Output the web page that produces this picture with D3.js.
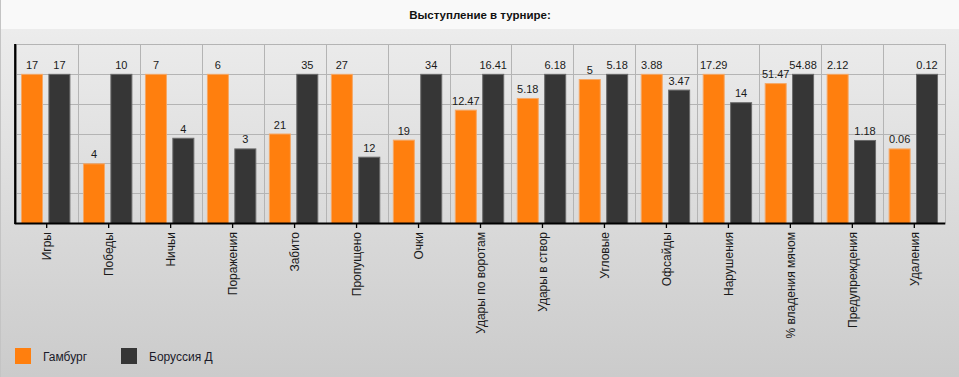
<!DOCTYPE html>
<html><head><meta charset="utf-8">
<script src="https://cdn.jsdelivr.net/npm/d3@7"></script>
<style>html,body{margin:0;padding:0;overflow:hidden;}svg{display:block;}</style>
</head><body>
<script>
const categories = ["Игры","Победы","Ничьи","Поражения","Забито","Пропущено","Очки","Удары по воротам","Удары в створ","Угловые","Офсайды","Нарушения","% владения мячом","Предупреждения","Удаления"];
const seriesNames = ["Гамбург","Боруссия Д"];
const hamburg = [17,4,7,6,21,27,19,12.47,5.18,5,3.88,17.29,51.47,2.12,0.06];
const borussia = [17,10,4,3,35,12,34,16.41,6.18,5.18,3.47,14,54.88,1.18,0.12];
const yTicks = [0,0.2,0.4,0.6,0.8,1.0,1.2];
const colors = ["#ff7f0e","#363636"];
const strokes = ["#f5a867","#6a6a6a"];

(function(){
const W=959,H=377;
const svg=d3.select("body").append("svg").attr("width",W).attr("height",H);
const defs=svg.append("defs");
const g=defs.append("linearGradient").attr("id","bg").attr("x1",0).attr("y1",0).attr("x2",0).attr("y2",1);
g.append("stop").attr("offset","0%").attr("stop-color","#ececec");
g.append("stop").attr("offset","100%").attr("stop-color","#cbcbcb");
svg.append("rect").attr("x",0).attr("y",29).attr("width",W).attr("height",H-29).attr("fill","url(#bg)");
svg.append("rect").attr("x",0).attr("y",0).attr("width",W).attr("height",29).attr("fill","#f9f9f9");
svg.append("line").attr("x1",0.5).attr("x2",0.5).attr("y1",0).attr("y2",H).attr("stroke","#c4c4c4");

svg.append("text").attr("x",480).attr("y",19).attr("text-anchor","middle")
  .attr("font-family","Liberation Sans, Arial, sans-serif").attr("font-weight","bold").attr("font-size","11.5px")
  .attr("fill","#111").text("Выступление в турнире:");

const pLeft=15.7,pRight=945.3,pTop=44,pBottom=223;
const x=d3.scaleBand().domain(categories).range([pLeft,pRight]);
const y=d3.scaleLinear().domain([0,1.2]).range([pBottom,pTop]);

const grid=svg.append("g");
grid.selectAll("line.h").data(yTicks).join("line").attr("x1",pLeft).attr("x2",pRight)
  .attr("y1",d=>Math.round(y(d))+0.5).attr("y2",d=>Math.round(y(d))+0.5).attr("stroke","#b4b4b4");
const bounds=categories.map(c=>x(c)).concat([pRight]);
grid.selectAll("line.v").data(bounds).join("line").attr("y1",pTop).attr("y2",pBottom)
  .attr("x1",d=>Math.round(d)+0.5).attr("x2",d=>Math.round(d)+0.5).attr("stroke","#b4b4b4");

const data=categories.map((c,i)=>{const m=Math.max(hamburg[i],borussia[i]);return {c,vals:[hamburg[i],borussia[i]],m};});
const barW=22, off=[5.3,32.7];
const bars=svg.append("g");
data.forEach(d=>{
  d.vals.forEach((v,s)=>{
    const bx=x(d.c)+off[s];
    const by=y(v/d.m);
    bars.append("rect").attr("x",bx+0.5).attr("y",by+0.5).attr("width",barW-1).attr("height",pBottom-by)
      .attr("fill",colors[s]).attr("stroke",strokes[s]).attr("stroke-width",1);
    bars.append("text").attr("x",bx+barW/2).attr("y",by-5).attr("text-anchor","middle")
      .attr("font-family","Liberation Sans, Arial, sans-serif").attr("font-size","11px").attr("fill","#1a1a1a").text(v);
  });
});

const xAxis=svg.append("g").attr("transform",`translate(0,${pBottom})`)
  .call(d3.axisBottom(x).tickSize(5).tickSizeOuter(0).tickPadding(4));
xAxis.select(".domain").remove();
xAxis.selectAll(".tick line").attr("stroke","#000").attr("stroke-width",1.3);
xAxis.selectAll(".tick text").attr("transform","rotate(-90)").attr("text-anchor","end")
  .attr("x",-9).attr("y",0).attr("dy","0.35em")
  .attr("font-family","Liberation Sans, Arial, sans-serif").attr("font-size","12px").attr("fill","#1a1a1a");
svg.append("line").attr("x1",pLeft-1).attr("x2",pRight).attr("y1",pBottom+0.5).attr("y2",pBottom+0.5).attr("stroke","#000").attr("stroke-width",2.2);
svg.append("line").attr("x1",pLeft-0.5).attr("x2",pLeft-0.5).attr("y1",pTop).attr("y2",pBottom+1).attr("stroke","#000").attr("stroke-width",2.2);

const lg=svg.append("g");
const lx=[15,121];
seriesNames.forEach((n,i)=>{
  lg.append("rect").attr("x",lx[i]).attr("y",348).attr("width",16).attr("height",16).attr("fill",colors[i]);
  lg.append("text").attr("x",lx[i]+28).attr("y",360.5).attr("font-family","Liberation Sans, Arial, sans-serif")
    .attr("font-size","12px").attr("fill","#1a1a2a").text(n);
});
})();
</script>
</body></html>
